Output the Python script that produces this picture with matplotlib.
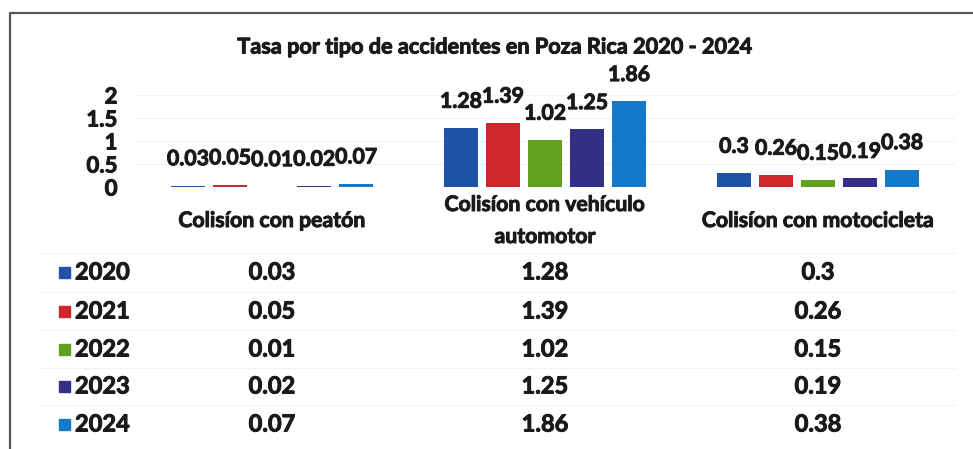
import numpy as np
import matplotlib.pyplot as plt
import matplotlib.patheffects as pe
from matplotlib import transforms
from matplotlib.patches import Rectangle

plt.rcParams['font.family'] = ['Lato', 'DejaVu Sans']
plt.rcParams['font.weight'] = 'bold'
tinta = '#1a1a1a'
trazo = [pe.withStroke(linewidth=0.7, foreground=tinta)]  # texto mas grueso, como el escaneo

categorias = ['Colisíon con peatón', 'Colisíon con vehículo\nautomotor', 'Colisíon con motocicleta']
anios = ['2020', '2021', '2022', '2023', '2024']
v2020 = [0.03, 1.28, 0.3]
v2021 = [0.05, 1.39, 0.26]
v2022 = [0.01, 1.02, 0.15]
v2023 = [0.02, 1.25, 0.19]
v2024 = [0.07, 1.86, 0.38]
series = [v2020, v2021, v2022, v2023, v2024]
colores = ['#1f53a8', '#d0262b', '#62a01f', '#332f86', '#1479c9']

W, H = 973, 449
fig = plt.figure(figsize=(W / 100, H / 100), dpi=100)

def px(x0, y0, x1, y1):
    # caja en pixeles (desde arriba) -> fraccion de figura
    return [x0 / W, 1 - y1 / H, (x1 - x0) / W, (y1 - y0) / H]

ax = fig.add_axes(px(135.5, 95, 954.5, 187))
x = np.arange(len(categorias))
paso = 0.154
ancho = 0.122
for i, vals in enumerate(series):
    pos = x + (i - 2) * paso
    ax.bar(pos, vals, ancho, color=colores[i], zorder=3)
    for xp, v in zip(pos, vals):
        ax.annotate(f'{v:g}', (xp, v), xytext=(0, 19), textcoords='offset points',
                    ha='center', va='center', fontsize=15.3, color=tinta, path_effects=trazo)

ax.set_xlim(-0.5, 2.5)
ax.set_ylim(0, 2)
ax.set_yticks([0, 0.5, 1, 1.5, 2])
ax.set_yticklabels(['0', '0.5', '1', '1.5', '2'])
ax.tick_params(axis='y', length=0, labelsize=16, pad=13, colors=tinta)
for lbl in ax.get_yticklabels():
    lbl.set_path_effects(trazo)
ax.set_xticks([])
for s in ax.spines.values():
    s.set_visible(False)
ax.yaxis.grid(True, color='#f0f0f0', linewidth=0.8, zorder=0)
ax.set_axisbelow(True)

fig.text(495 / W, 1 - 47 / H, 'Tasa por tipo de accidentes en Poza Rica 2020 - 2024',
         ha='center', va='center', fontsize=15.6, color=tinta, path_effects=trazo)

# tabla de datos
tr = transforms.blended_transform_factory(ax.transData, fig.transFigure)
y_head = 1 - 221 / H
for xc, cat in zip(x, categorias):
    fig.text(xc, y_head, cat, transform=tr, ha='center', va='center',
             fontsize=15.3, color=tinta, linespacing=1.75, path_effects=trazo)

filas_y = [272, 311, 349, 386, 424]
for i, (anio, vals) in enumerate(zip(anios, series)):
    yy = 1 - filas_y[i] / H
    fig.patches.append(Rectangle((59 / W, yy - 5.5 / H), 11 / W, 11 / H,
                                 transform=fig.transFigure, color=colores[i]))
    fig.text(75 / W, yy, anio, ha='left', va='center', fontsize=17,
             color=tinta, path_effects=trazo)
    for xc, v in zip(x, vals):
        fig.text(xc, yy, f'{v:g}', transform=tr, ha='center', va='center',
                 fontsize=17, color=tinta, path_effects=trazo)

for yl in [253, 292, 330, 368, 405]:
    fig.add_artist(plt.Line2D([40 / W, 955 / W], [1 - yl / H, 1 - yl / H],
                              transform=fig.transFigure, color='#f2f2f2', linewidth=0.8))

# marco exterior
fig.add_artist(plt.Line2D([10 / W, 10 / W, 973 / W], [0, 1 - 13 / H, 1 - 13 / H],
                          transform=fig.transFigure, color='#555555', linewidth=1.6))

fig.savefig('out.png', dpi=100, facecolor='white')
